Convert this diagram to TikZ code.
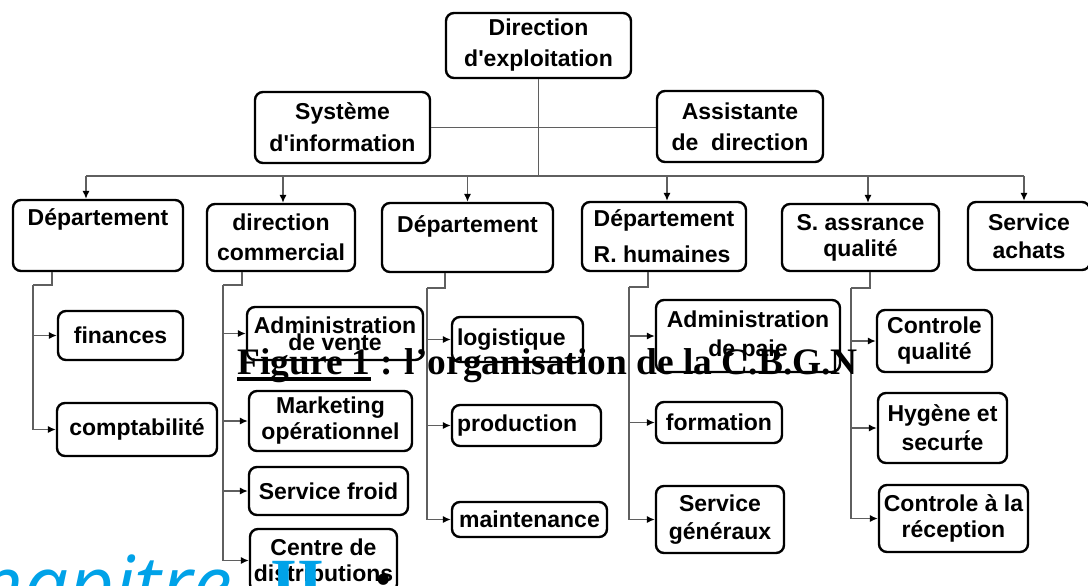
\documentclass[tikz,border=0pt]{standalone}
\usepackage{fontspec}
\setmainfont{Liberation Sans}
\newfontfamily\serifgras{Liberation Serif}
\newfontfamily\chapfont{Open Sans}
\usetikzlibrary{arrows.meta}
\definecolor{trait}{RGB}{95,95,95}
\definecolor{chapbleu}{RGB}{0,162,232}
\tikzset{
  boite/.style={draw, line width=1.2pt, rounded corners=4pt, inner sep=0pt, align=center,
    font=\bfseries\fontsize{11.5}{13}\selectfont},
  boitehaut/.style={boite, font=\bfseries\fontsize{11.5}{15.5}\selectfont},
  ligne/.style={draw=trait, line width=0.7pt},
  fleche/.style={ligne, -{Latex[length=4pt,width=3.6pt,color=black]}}
}
% underline a bit thicker than \underline
\newcommand\souligne[1]{\setbox0\hbox{#1}\rlap{\rule[-3.4pt]{\wd0}{1.8pt}}\box0}

\begin{document}
\begin{tikzpicture}[x=0.5pt,y=-0.5pt]
  \useasboundingbox (0,0) rectangle (1088,585);
  \clip (0,0) rectangle (1088,585);
  \fill[white] (0,0) rectangle (1088,585);

  % boxes: name/left/top/right/bottom/text (pixels)
  \foreach \nom/\xa/\ya/\xb/\yb/\txt in {
      dir/446/13/631/78/{Direction\\d\textquotesingle exploitation},
      sys/255/92/430/163/{Syst\`eme\\[0.5pt]d\textquotesingle information},
      asst/657/91/823/162/{Assistante\\de\ \ direction}} {
    \node[boitehaut, minimum width={(\xb-\xa)*0.5pt}, minimum height={(\yb-\ya)*0.5pt}]
      (\nom) at ({(\xa+\xb)/2},{(\ya+\yb)/2}) {\txt};
  }
  \foreach \nom/\xa/\ya/\xb/\yb/\txt in {
      dep1/13/200/183/271/{D\'epartement\\[2pt]\strut},
      com/207/204/355/271/{direction\\[2pt]commercial},
      dep3/382/203/553/272/{D\'epartement\\[-3.5pt]\strut},
      saq/782/204/939/271/{S. assrance\\qualit\'e},
      achat/968/202/1090/270/{Service\\[1pt]achats},
      fin/58/311/183/360/{finances},
      compta/57/403/217/456/{comptabilit\'e},
      admv/247/307/423/360/{Administration\\[-4.5pt]de vente},
      mkt/249/391/412/451/{Marketing\\op\'erationnel},
      froid/249/467/408/515/{Service froid},
      centre/250/529/397/592/{Centre de\\distributions},
      maint/452/502/607/537/{maintenance},
      admp/656/300/840/372/{Administration\\[1.5pt]de paie},
      form/656/402/782/443/{formation},
      gen/656/486/784/553/{Service\\[1pt]g\'en\'eraux},
      ctrlq/877/310/992/372/{Controle\\qualit\'e},
      hyg/878/393/1007/463/{Hyg\`ene et\\[1.5pt]secur\'te},
      recep/879/485/1028/552/{Controle \`a la\\r\'eception}} {
    \node[boite, minimum width={(\xb-\xa)*0.5pt}, minimum height={(\yb-\ya)*0.5pt}]
      (\nom) at ({(\xa+\xb)/2},{(\ya+\yb)/2}) {\txt};
  }
  % left-aligned ones
  \node[boite, align=left, minimum width=82pt, minimum height=34.5pt] (rh) at (664,236.5)
    {D\'epartement\\[5pt]R. humaines};
  \node[boite, align=left, text width=60.5pt, minimum width=65.5pt, minimum height=22.5pt] (logi) at (517.5,339.5)
    {logistique};
  \node[boite, align=left, text width=69.5pt, minimum width=74.5pt, minimum height=20.5pt] (prod) at (526.5,425.5)
    {production};

  % top links
  \coordinate (bus) at (0,176);
  \draw[ligne] (dir.south) -- (dir.south |- bus);
  \draw[ligne] (sys.east) -- (sys.east -| asst.west);
  \draw[ligne] ([xshift=-6pt]dep1.north |- bus) -- ([xshift=-2.5pt]achat.north |- bus);
  \foreach \n/\dx in {dep1/-12,com/2,dep3/0,rh/3,saq/7.5,achat/-5}
    \draw[fleche] ([xshift=\dx*0.5pt]\n.north |- bus) -- ([xshift=\dx*0.5pt]\n.north);

  % branches: department/stem offset/corner x/corner y/children
  \foreach \dep/\dx/\cx/\cy/\enfants in {
      dep1/-46/33/285/{fin,compta},
      com/-39/223/285/{admv,mkt,froid,centre},
      dep3/-22.5/427/288/{logi,prod,maint},
      rh/-16/629/287/{admp,form,gen},
      saq/9.5/851/288/{ctrlq,hyg,recep}} {
    \coordinate (c) at (\cx,\cy);
    \draw[ligne] ([xshift=\dx*0.5pt]\dep.south) |- (c);
    \foreach \e in \enfants {
      \draw[ligne] (c) -- (c |- \e.west);
      \draw[fleche] (c |- \e.west) -- (\e.west);
    }
  }

  % texts lying over the chart
  \node[anchor=base west, inner sep=0pt, font=\serifgras\bfseries\fontsize{18.7}{20}\selectfont]
    (titre) at (237,374) {\souligne{Figure 1}\ : l’organisation de la C.B.G.N};
  \node[anchor=base east, inner sep=0pt, text=chapbleu, font=\chapfont\itshape\fontsize{40}{42}\selectfont]
    (chap) at (233,613) {Chapitre};
  \node[anchor=base west, inner sep=0pt, text=chapbleu, font=\serifgras\bfseries\fontsize{34.5}{36}\selectfont]
    (chapnum) at (270,606) {II};
  \node[anchor=base west, inner sep=0pt, font=\serifgras\bfseries\fontsize{34.5}{36}\selectfont]
    (chapdp) at (372,606) {:};
\end{tikzpicture}
\end{document}
